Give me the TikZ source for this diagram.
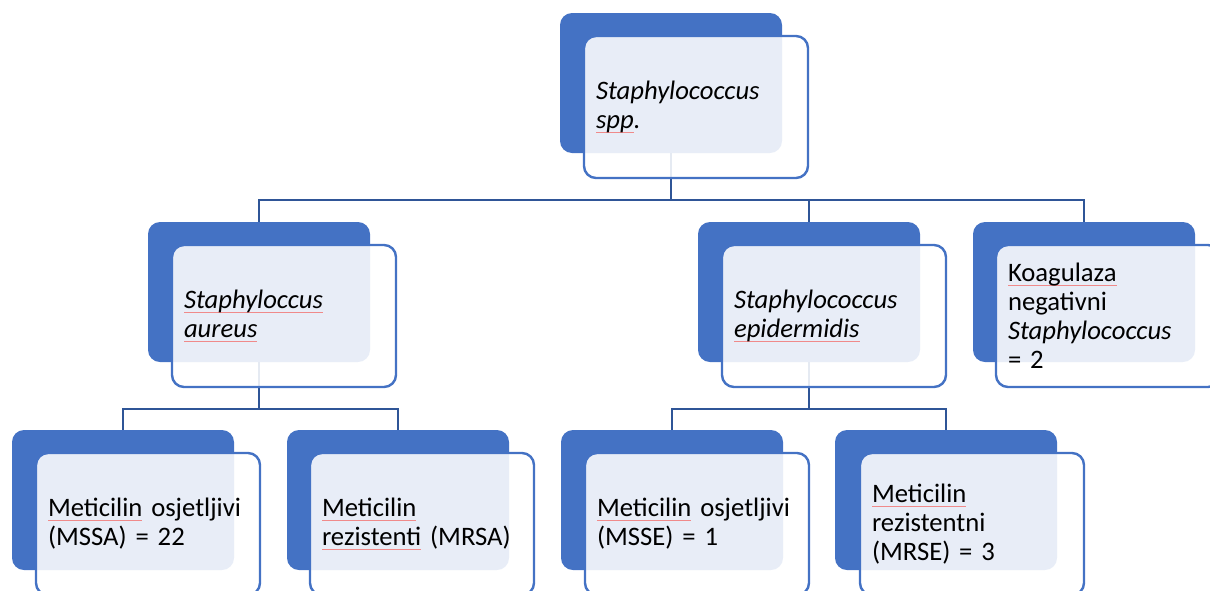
\documentclass[tikz,border=0pt]{standalone}
\usepackage{fontspec}
\setmainfont{Carlito}
\usetikzlibrary{backgrounds}
\definecolor{accent}{HTML}{4472C4}
\definecolor{connc}{HTML}{2F5597}
\definecolor{splc}{HTML}{F08A8A}
\newcommand\spl[1]{\leavevmode\setbox0\hbox{#1}\rlap{\color{splc}\rule[-3pt]{\wd0}{0.5pt}}\box0\relax}
\begin{document}
\begin{tikzpicture}[x=0.75pt,y=-0.75pt,
  backbox/.style={fill=accent, rounded corners=9pt, minimum width=166.5pt, minimum height=105pt, inner sep=0pt, outer sep=0pt, anchor=north west},
  frontbox/.style={draw=accent, line width=1.8pt, fill=white, fill opacity=0.88, text opacity=1, rounded corners=9pt, text width=150pt, minimum height=106.5pt, inner xsep=9pt, inner ysep=0pt, outer sep=0pt, align=left, anchor=north west, font=\fontsize{20}{21.75}\selectfont},
  conn/.style={draw=connc, line width=1.8pt}]
\useasboundingbox (0,0) rectangle (1210,590);
\clip (0,0) rectangle (1210,590);
% root
\node[backbox] (rb) at (560,13) {};
\node[frontbox] (rf) at (584,36) {\textit{Staphylococcus}\\\textit{\spl{spp}.}};
% level 2
\node[backbox] (ab) at (148,222) {};
\node[frontbox] (af) at (172,245) {\textit{\spl{Staphyloccus}}\\\textit{\spl{aureus}}};
\node[backbox] (eb) at (698,222) {};
\node[frontbox] (ef) at (722,245) {\textit{Staphylococcus}\\\textit{\spl{epidermidis}}};
\node[backbox] (kb) at (973,222) {};
\node[frontbox] (kf) at (996,245) {\spl{Koagulaza}\\negativni\\\textit{Staphylococcus}\\= 2};
% level 3
\node[backbox] (mssab) at (12,430) {};
\node[frontbox] (mssaf) at (36,453) {\spl{Meticilin} osjetljivi\\(MSSA) = 22};
\node[backbox] (mrsab) at (287,430) {};
\node[frontbox] (mrsaf) at (310,453) {\spl{Meticilin}\\\spl{rezistenti} (MRSA)};
\node[backbox] (msseb) at (561,430) {};
\node[frontbox] (mssef) at (585,453) {\spl{Meticilin} osjetljivi\\(MSSE) = 1};
\node[backbox] (mrseb) at (835,430) {};
\node[frontbox] (mrsef) at (860,453) {\spl{Meticilin}\\rezistentni\\(MRSE) = 3};
% connectors
\begin{scope}[on background layer]
\path (rb.south) ++(0,47) coordinate (bus1);
\draw[conn] (rb.south) -- (bus1);
\draw[conn] (ab.north) |- (bus1) -| (kb.north);
\draw[conn] (eb.north) -- (eb.north |- bus1);
\path (ab.south) ++(0,47) coordinate (bus2);
\draw[conn] (ab.south) -- (bus2);
\draw[conn] (mssab.north) |- (bus2) -| (mrsab.north);
\path (eb.south) ++(0,47) coordinate (bus3);
\draw[conn] (eb.south) -- (bus3);
\draw[conn] (msseb.north) |- (bus3) -| (mrseb.north);
\end{scope}
\end{tikzpicture}
\end{document}
